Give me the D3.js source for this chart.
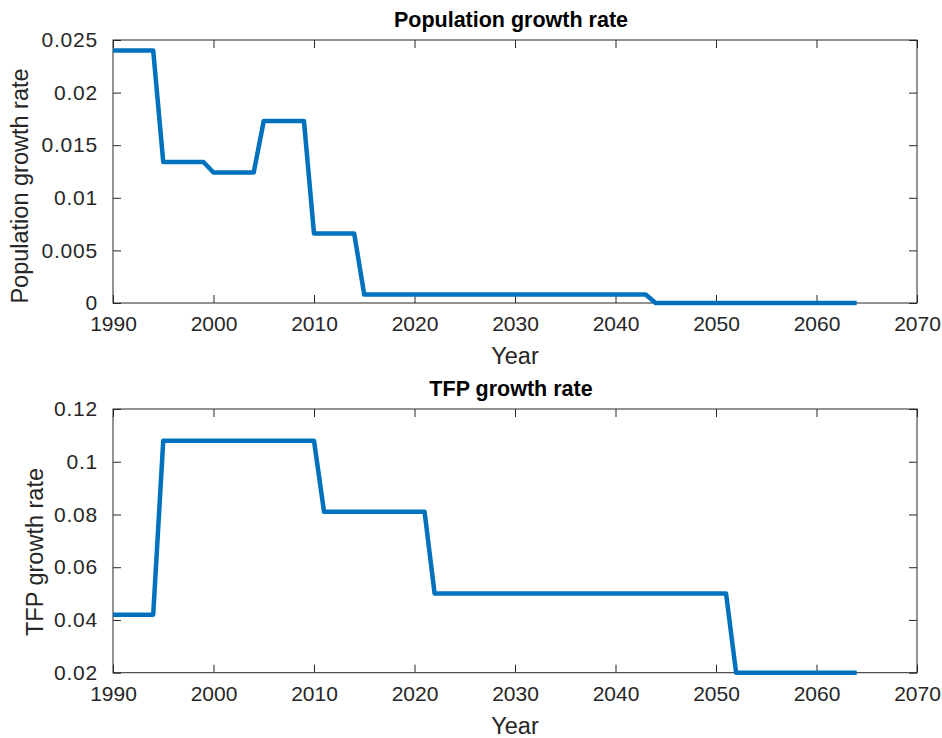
<!DOCTYPE html>
<html lang="en">
<script src="https://d3js.org/d3.v7.min.js"></script>
<style>
  body { margin: 0; background: white; }
  text { font-family: "Liberation Sans", Arial, Helvetica, sans-serif; fill: #262626; }
  .tick line { stroke: #262626; }
</style>
<body>
<svg width="942" height="738" id="chart"></svg>
<script>
  // step points
  var popYears  = [1990, 1994, 1995, 1999, 2000, 2004, 2005, 2009, 2010, 2014, 2015, 2043, 2044, 2064]
  var popValues = [0.024, 0.024, 0.0134, 0.0134, 0.0124, 0.0124, 0.0173, 0.0173, 0.0066, 0.0066, 0.0008, 0.0008, 0, 0]

  var tfpYears  = [1990, 1994, 1995, 2010, 2011, 2021, 2022, 2051, 2052, 2064]
  var tfpValues = [0.042, 0.042, 0.108, 0.108, 0.081, 0.081, 0.05, 0.05, 0.02, 0.02]

  var xTicks = [1990, 2000, 2010, 2020, 2030, 2040, 2050, 2060, 2070]
  var popTicks = [0, 0.005, 0.01, 0.015, 0.02, 0.025]
  var tfpTicks = [0.02, 0.04, 0.06, 0.08, 0.1, 0.12]

  var svg = d3.select('#chart')
  var left = 113, right = 917

  var x = d3.scaleLinear().domain([1990, 2070]).range([left, right])

  function panel(years, values, yDomain, yTicks, top, bottom, title, ylabel, labelPos) {
    var y = d3.scaleLinear().domain(yDomain).range([bottom, top])
    var g = svg.append('g')

    // box
    g.append('rect')
      .attr('x', left).attr('y', top)
      .attr('width', right - left).attr('height', bottom - top)
      .style('fill', 'none').style('stroke', '#262626').style('stroke-width', 1)

    // inward ticks on all four sides
    g.append('g').attr('transform', 'translate(0,' + bottom + ')')
      .call(d3.axisBottom(x).tickValues(xTicks).tickFormat(d3.format('d')).tickSizeInner(-8).tickSizeOuter(0).tickPadding(13))
      .call(function(a) { a.select('.domain').remove() })
    g.append('g').attr('transform', 'translate(0,' + top + ')')
      .call(d3.axisTop(x).tickValues(xTicks).tickFormat('').tickSizeInner(-8).tickSizeOuter(0))
      .call(function(a) { a.select('.domain').remove() })
    g.append('g').attr('class', 'yax').attr('transform', 'translate(' + left + ',0)')
      .call(d3.axisLeft(y).tickValues(yTicks).tickFormat(d3.format('~g')).tickSizeInner(-8).tickSizeOuter(0).tickPadding(15))
      .call(function(a) { a.select('.domain').remove() })
    g.append('g').attr('transform', 'translate(' + right + ',0)')
      .call(d3.axisRight(y).tickValues(yTicks).tickFormat('').tickSizeInner(-8).tickSizeOuter(0))
      .call(function(a) { a.select('.domain').remove() })

    g.selectAll('.tick text').style('font-size', '21px').style('font-family', '"Liberation Sans", Arial, sans-serif').style('fill', '#262626')
    g.selectAll('.yax .tick text').style('letter-spacing', '0.8px')

    var line = d3.line()
      .x(function(d, i) { return x(years[i]) })
      .y(function(d) { return y(d) })
    g.append('path')
      .datum(values)
      .attr('d', line)
      .style('fill', 'none')
      .style('stroke', '#0072BD')
      .style('stroke-width', 4.5)
      .style('stroke-linejoin', 'round')

    g.append('text')
      .attr('x', 511).attr('y', top - 13)
      .style('text-anchor', 'middle').style('font-size', '21.5px').style('font-weight', 'bold')
      .style('fill', '#000')
      .text(title)

    g.append('text')
      .attr('x', (left + right) / 2).attr('y', bottom + 61)
      .style('text-anchor', 'middle').style('font-size', '23.5px')
      .text('Year')

    g.append('text')
      .attr('transform', 'translate(' + labelPos[0] + ',' + labelPos[1] + ') rotate(-90)')
      .style('text-anchor', 'middle').style('font-size', '23.5px')
      .text(ylabel)
  }

  panel(popYears, popValues, [0, 0.025], popTicks, 40, 303, 'Population growth rate', 'Population growth rate', [28, 186])
  panel(tfpYears, tfpValues, [0.02, 0.12], tfpTicks, 409, 672.7, 'TFP growth rate', 'TFP growth rate', [43, 552])
</script>
</body>
</html>
